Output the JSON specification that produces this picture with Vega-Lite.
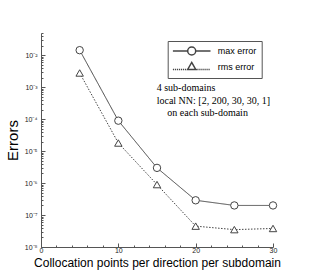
{
  "$schema": "https://vega.github.io/schema/vega-lite/v6.json",
  "width": 232,
  "height": 214,
  "autosize": "none",
  "padding": {"left": 41, "top": 33, "right": 38, "bottom": 30},
  "background": "white",
  "config": {
    "view": {"stroke": null},
    "font": "Liberation Sans",
    "axis": {
      "domainColor": "#555",
      "tickColor": "#555",
      "labelColor": "#222",
      "labelFont": "Liberation Sans",
      "labelFontSize": 7,
      "titleFont": "Liberation Sans",
      "titleFontWeight": "normal",
      "titleColor": "black",
      "grid": false,
      "labelOverlap": false,
      "labelBound": false,
      "labelFlush": false
    }
  },
  "datasets": {
    "errs": [
      {"n": 5, "err": 0.0145, "series": "max error"},
      {"n": 10, "err": 0.00009, "series": "max error"},
      {"n": 15, "err": 0.000003, "series": "max error"},
      {"n": 20, "err": 2.9e-7, "series": "max error"},
      {"n": 25, "err": 2.0e-7, "series": "max error"},
      {"n": 30, "err": 2.0e-7, "series": "max error"},
      {"n": 5, "err": 0.0028, "series": "rms error"},
      {"n": 10, "err": 0.000018, "series": "rms error"},
      {"n": 15, "err": 9e-7, "series": "rms error"},
      {"n": 20, "err": 4.5e-8, "series": "rms error"},
      {"n": 25, "err": 3.5e-8, "series": "rms error"},
      {"n": 30, "err": 3.8e-8, "series": "rms error"}
    ],
    "notes": [
      {"n": 14.96, "err": 0.00075, "label": "4 sub-domains"},
      {"n": 14.96, "err": 0.000305, "label": "local NN: [2, 200, 30, 30, 1]"},
      {"n": 16.34, "err": 0.000124, "label": "on each sub-domain"}
    ]
  },
  "resolve": {"axis": {"x": "independent"}},
  "layer": [
    {
      "data": {"name": "errs"},
      "mark": {"type": "line", "stroke": "#444", "strokeWidth": 1},
      "encoding": {
        "x": {
          "field": "n", "type": "quantitative",
          "scale": {"domain": [0, 30], "nice": false, "zero": false},
          "axis": {
            "orient": "bottom",
            "title": "Collocation points per direction per subdomain",
            "titleFontSize": 12,
            "titlePadding": 4,
            "values": [0, 10, 20, 30],
            "format": "d",
            "labelOverlap": false,
            "tickSize": -4,
            "labelPadding": 3
          }
        },
        "y": {
          "field": "err", "type": "quantitative",
          "scale": {"type": "log", "domain": [1e-8, 0.05], "nice": false},
          "axis": {
            "title": "Errors",
            "titleFontSize": 15,
            "titlePadding": 4,
            "labelOverlap": false,
            "values": [1e-8, 2e-8, 3e-8, 4e-8, 5e-8, 6e-8, 7e-8, 8e-8, 9e-8,
                       1e-7, 2e-7, 3e-7, 4e-7, 5e-7, 6e-7, 7e-7, 8e-7, 9e-7,
                       1e-6, 2e-6, 3e-6, 4e-6, 5e-6, 6e-6, 7e-6, 8e-6, 9e-6,
                       1e-5, 2e-5, 3e-5, 4e-5, 5e-5, 6e-5, 7e-5, 8e-5, 9e-5,
                       1e-4, 2e-4, 3e-4, 4e-4, 5e-4, 6e-4, 7e-4, 8e-4, 9e-4,
                       1e-3, 2e-3, 3e-3, 4e-3, 5e-3, 6e-3, 7e-3, 8e-3, 9e-3,
                       0.01, 0.02, 0.03, 0.04, 0.05],
            "labelExpr": "abs(log(datum.value)/LN10 - round(log(datum.value)/LN10)) < 0.001 ? '10⁻' + ['⁰','¹','²','³','⁴','⁵','⁶','⁷','⁸','⁹'][-round(log(datum.value)/LN10)] : ''",
            "tickSize": {"condition": {"test": "abs(log(datum.value)/LN10 - round(log(datum.value)/LN10)) < 0.001", "value": -4}, "value": -2},
            "labelPadding": 8
          }
        },
        "detail": {"field": "series", "type": "nominal"},
        "strokeDash": {
          "condition": {"test": "datum.series === 'rms error'", "value": [1.5, 1.5]},
          "value": [1, 0]
        }
      }
    },
    {
      "data": {"name": "errs"},
      "mark": {"type": "point", "filled": false, "fill": "white", "stroke": "#444", "strokeWidth": 1, "opacity": 1},
      "encoding": {
        "x": {"field": "n", "type": "quantitative", "axis": null},
        "y": {"field": "err", "type": "quantitative"},
        "shape": {
          "condition": {"test": "datum.series === 'rms error'", "value": "triangle-up"},
          "value": "circle"
        },
        "size": {"value": 55}
      }
    },
    {
      "data": {"name": "errs"},
      "transform": [{"filter": "false"}],
      "mark": {"type": "point", "filled": false, "fill": "white", "stroke": "#444", "strokeWidth": 1, "opacity": 1},
      "encoding": {
        "x": {"field": "n", "type": "quantitative", "axis": null},
        "y": {"field": "err", "type": "quantitative"},
        "shape": {
          "field": "series", "type": "nominal",
          "scale": {
            "domain": ["max error", "rms error"],
            "range": [
              "M-4.7,0L-1,0M1,0L4.7,0M1,0A1,1,0,1,1,-1,0A1,1,0,1,1,1,0",
              "M0,-1.15L1,0.6L-1,0.6ZM-4.7,0.6L-4.4,0.6M-4.2,0.6L-3.9,0.6M-3.7,0.6L-3.4,0.6M-3.2,0.6L-2.9,0.6M-2.7,0.6L-2.4,0.6M-2.2,0.6L-1.9,0.6M-1.7,0.6L-1.4,0.6M-1.2,0.6L-1,0.6M1.2,0.6L1.5,0.6M1.7,0.6L2,0.6M2.2,0.6L2.5,0.6M2.7,0.6L3,0.6M3.2,0.6L3.5,0.6M3.7,0.6L4,0.6M4.2,0.6L4.5,0.6"
            ]
          },
          "legend": {
            "title": null,
            "orient": "none",
            "legendX": 126.7,
            "legendY": 8,
            "direction": "vertical",
            "strokeColor": "#555",
            "fillColor": "white",
            "padding": 5,
            "symbolSize": 64,
            "symbolOffset": 14,
            "labelOffset": 21,
            "labelFont": "Liberation Sans",
            "labelFontSize": 9,
            "labelColor": "black",
            "rowPadding": 1
          }
        },
        "size": {"value": 64}
      }
    },
    {
      "data": {"name": "notes"},
      "mark": {"type": "text", "font": "Liberation Serif", "fontSize": 10, "align": "left", "baseline": "alphabetic", "color": "black"},
      "encoding": {
        "x": {
          "field": "n", "type": "quantitative",
          "axis": {
            "orient": "bottom",
            "title": null,
            "values": [2, 4, 6, 8, 12, 14, 16, 18, 22, 24, 26, 28],
            "labels": false,
            "domain": false,
            "tickSize": -2
          }
        },
        "y": {"field": "err", "type": "quantitative"},
        "text": {"field": "label"}
      }
    }
  ]
}
